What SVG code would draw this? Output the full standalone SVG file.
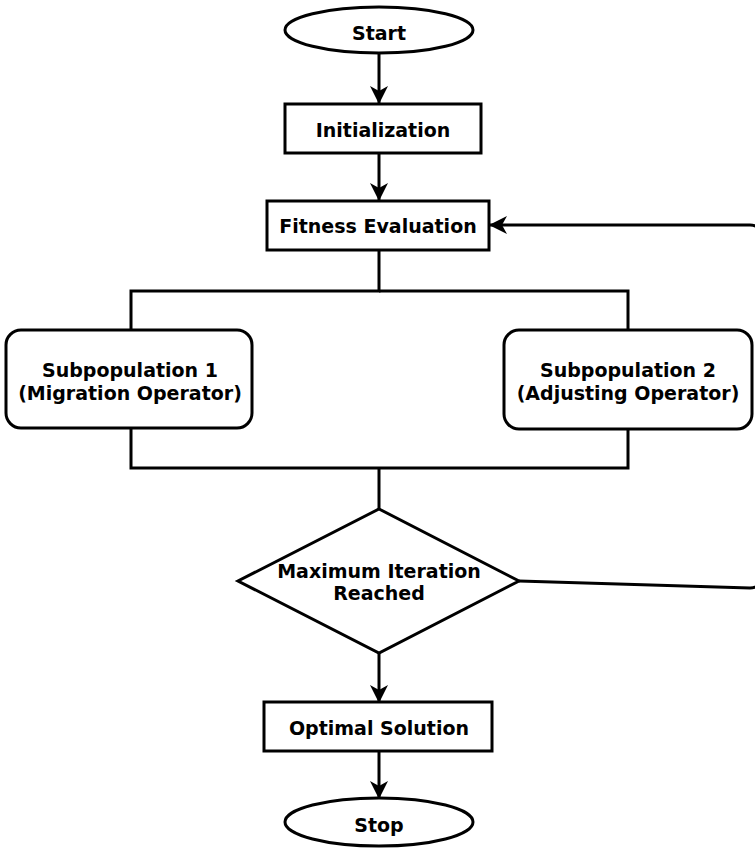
<svg xmlns="http://www.w3.org/2000/svg" width="755" height="848" viewBox="0 0 755 848">
  <style>
    .shape { fill: #ffffff; stroke: #000000; stroke-width: 3; }
    .edge { fill: none; stroke: #000000; stroke-width: 3; }
    .label { font-family: "DejaVu Sans", Verdana, sans-serif; font-weight: bold; font-size: 19px; fill: #000000; text-anchor: middle; }
  </style>
  <defs>
    <marker id="arrow" viewBox="0 0 18 18" refX="17" refY="9" markerWidth="18" markerHeight="18" markerUnits="userSpaceOnUse" orient="auto">
      <path d="M0,0 L18,9 L0,18 L5,9 Z" fill="#000000"/>
    </marker>
  </defs>
  <rect width="755" height="848" fill="#ffffff"/>

  <g id="connectors">
    <line class="edge" x1="379" y1="53" x2="379" y2="103" marker-end="url(#arrow)"/>
    <line class="edge" x1="379" y1="153" x2="379" y2="200" marker-end="url(#arrow)"/>
    <polyline class="edge" points="379,250 379,291 131,291 131,330"/>
    <polyline class="edge" points="379,291 628,291 628,330"/>
    <polyline class="edge" points="131,428 131,468 628,468 628,429"/>
    <line class="edge" x1="379" y1="468" x2="379" y2="509"/>
    <line class="edge" x1="379" y1="653" x2="379" y2="702" marker-end="url(#arrow)"/>
    <line class="edge" x1="379" y1="751" x2="379" y2="798" marker-end="url(#arrow)"/>
    <path class="edge" d="M519,581 L750,588 Q760,588 760,578 L760,235 Q760,225 750,225 L490,225" marker-end="url(#arrow)"/>
  </g>

  <g id="start">
    <ellipse class="shape" cx="379" cy="30" rx="94" ry="23"/>
    <text class="label" x="379" y="40">Start</text>
  </g>
  <g id="initialization">
    <rect class="shape" x="285" y="104" width="196" height="49"/>
    <text class="label" x="383" y="137">Initialization</text>
  </g>
  <g id="fitness">
    <rect class="shape" x="267" y="201" width="222" height="49"/>
    <text class="label" x="378" y="233">Fitness Evaluation</text>
  </g>
  <g id="subpop1">
    <rect class="shape" x="6" y="330" width="246" height="98" rx="15" ry="15"/>
    <text class="label" x="130" y="377">Subpopulation 1</text>
    <text class="label" x="130" y="400">(Migration Operator)</text>
  </g>
  <g id="subpop2">
    <rect class="shape" x="504" y="330" width="248" height="99" rx="15" ry="15"/>
    <text class="label" x="628" y="377">Subpopulation 2</text>
    <text class="label" x="628" y="400">(Adjusting Operator)</text>
  </g>
  <g id="decision">
    <polygon class="shape" points="379,509 519,581 379,653 238,581"/>
    <text class="label" x="379" y="578">Maximum Iteration</text>
    <text class="label" x="379" y="600">Reached</text>
  </g>
  <g id="optimal">
    <rect class="shape" x="264" y="702" width="228" height="49"/>
    <text class="label" x="379" y="735">Optimal Solution</text>
  </g>
  <g id="stop">
    <ellipse class="shape" cx="379" cy="822" rx="94" ry="24"/>
    <text class="label" x="379" y="832">Stop</text>
  </g>
</svg>
